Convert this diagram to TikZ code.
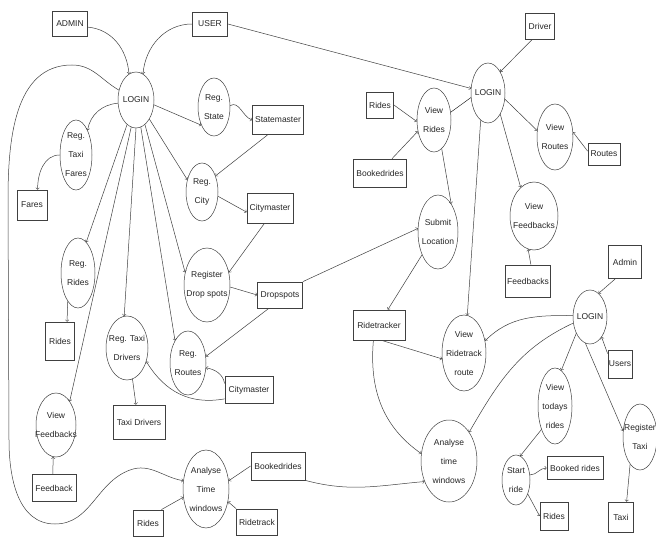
\documentclass[tikz,border=0pt]{standalone}
\usepackage{fontspec}
\setmainfont{Liberation Sans}
\usetikzlibrary{shapes.geometric}
\tikzset{
  proc/.style={draw=black!75, ellipse, inner sep=0pt, line width=0.5pt},
  ptext/.style={align=center, inner sep=0pt, text=black!85, font=\fontsize{8.5}{19}\selectfont},
  store/.style={draw=black!75, rectangle, inner sep=0pt, line width=0.8pt, text=black!85, font=\fontsize{8.5}{10}\selectfont},
  flow/.style={->, black!75, line width=0.5pt}
}
\begin{document}
\begin{tikzpicture}[x=1pt,y=1pt]
\useasboundingbox[fill=white] (0,0) rectangle (656,-537);

\node[store, minimum width=35, minimum height=25] (admin) at (70,-24) {ADMIN};
\node[store, minimum width=35, minimum height=24] (user) at (210,-24) {USER};
\node[proc, minimum width=36, minimum height=56, label={[ptext]center:LOGIN}] (loginA) at (136,-100) {};
\node[proc, minimum width=32, minimum height=58, label={[ptext]center:Reg.\\State}] (regstate) at (214,-107) {};
\node[store, minimum width=51, minimum height=29] (statemaster) at (278,-120) {Statemaster};
\node[proc, minimum width=32, minimum height=70, label={[ptext]center:Reg.\\Taxi\\Fares}] (regfares) at (76,-155) {};
\node[store, minimum width=30, minimum height=30] (fares) at (32,-205) {Fares};
\node[proc, minimum width=32, minimum height=58, label={[ptext]center:Reg.\\City}] (regcity) at (202,-192) {};
\node[store, minimum width=46, minimum height=30] (citymasterA) at (270,-208) {Citymaster};
\node[proc, minimum width=34, minimum height=70, label={[ptext]center:Reg.\\Rides}] (regrides) at (78,-273) {};
\node[store, minimum width=29, minimum height=38] (ridesA) at (60,-341) {Rides};
\node[proc, minimum width=46, minimum height=74, label={[ptext]center:Register\\Drop spots}] (dropreg) at (207,-285) {};
\node[store, minimum width=45, minimum height=26] (dropspots) at (280,-295) {Dropspots};
\node[proc, minimum width=42, minimum height=64, label={[ptext]center:Reg. Taxi\\Drivers}] (regdrivers) at (127,-348) {};
\node[store, minimum width=52, minimum height=34] (taxidrivers) at (139,-422) {Taxi Drivers};
\node[proc, minimum width=36, minimum height=64, label={[ptext]center:Reg.\\Routes}] (regroutes) at (188,-363) {};
\node[store, minimum width=48, minimum height=27] (citymasterB) at (249,-390) {Citymaster};
\node[proc, minimum width=40, minimum height=64, label={[ptext]center:View\\Feedbacks}] (viewfbA) at (56,-425) {};
\node[store, minimum width=44, minimum height=27] (feedback) at (54,-488) {Feedback};
\node[proc, minimum width=46, minimum height=78, label={[ptext]center:Analyse\\Time\\windows}] (analyseA) at (206,-489) {};
\node[store, minimum width=54, minimum height=28] (bookedA) at (278,-466) {Bookedrides};
\node[store, minimum width=30, minimum height=26] (ridesB) at (148,-523) {Rides};
\node[store, minimum width=41, minimum height=26] (ridetrack) at (257,-522) {Ridetrack};

\node[store, minimum width=29, minimum height=26] (driver) at (540,-26) {Driver};
\node[proc, minimum width=34, minimum height=60, label={[ptext]center:LOGIN}] (loginB) at (488,-93) {};
\node[proc, minimum width=34, minimum height=64, label={[ptext]center:View\\Rides}] (viewrides) at (434,-120) {};
\node[store, minimum width=27, minimum height=26] (ridesC) at (380,-105) {Rides};
\node[store, minimum width=53, minimum height=28] (bookedB) at (380,-173) {Bookedrides};
\node[proc, minimum width=36, minimum height=66, label={[ptext]center:View\\Routes}] (viewroutes) at (555,-137) {};
\node[store, minimum width=32, minimum height=22] (routes) at (604,-154) {Routes};
\node[proc, minimum width=40, minimum height=74, label={[ptext]center:Submit\\Location}] (submitloc) at (438,-232) {};
\node[proc, minimum width=48, minimum height=68, label={[ptext]center:View\\Feedbacks}] (viewfbB) at (534,-216) {};
\node[store, minimum width=45, minimum height=32] (feedbacks) at (528,-281) {Feedbacks};
\node[store, minimum width=33, minimum height=33] (adminB) at (625,-262) {Admin};
\node[proc, minimum width=34, minimum height=54, label={[ptext]center:LOGIN}] (loginC) at (590,-317) {};
\node[store, minimum width=52, minimum height=30] (ridetracker) at (379,-325) {Ridetracker};
\node[proc, minimum width=44, minimum height=76, label={[ptext]center:View\\Ridetrack\\route}] (viewtrack) at (464,-353) {};
\node[store, minimum width=24, minimum height=28] (users) at (620,-364) {Users};
\node[proc, minimum width=34, minimum height=76, label={[ptext]center:View\\todays\\rides}] (todays) at (555,-406) {};
\node[proc, minimum width=34, minimum height=66, label={[ptext]center:Register\\Taxi}] (regtaxi) at (640,-437) {};
\node[proc, minimum width=56, minimum height=82, label={[ptext]center:Analyse\\time\\windows}] (analyseB) at (449,-461) {};
\node[proc, minimum width=28, minimum height=50, label={[ptext]center:Start\\ride}] (startride) at (516,-480) {};
\node[store, minimum width=56, minimum height=23] (bookedC) at (575,-468) {Booked rides};
\node[store, minimum width=28, minimum height=28] (ridesD) at (554,-516) {Rides};
\node[store, minimum width=25, minimum height=30] (taxi) at (621,-517) {Taxi};

\draw[flow] (admin.-10) to[out=-5,in=95] (loginA.105);
\draw[flow] (user.west) to[out=180,in=85] (loginA.75);
\draw[flow] (user.east) -- (loginB.165);
\draw[flow] (loginA.-15) -- (regstate.235);
\draw[flow] (regstate.5) to[out=30,in=160] (statemaster.west);
\draw[flow] (statemaster.235) -- (regcity.50);
\draw[flow] (loginA.-55) -- (regcity.140);
\draw[flow] (regcity.-15) -- (citymasterA.190);
\draw[flow] (citymasterA.250) -- (dropreg.30);
\draw[flow] (loginA.-70) -- (dropreg.150);
\draw[flow] (dropreg.-5) -- (dropspots.west);
\draw[flow] (dropspots.230) -- (regroutes.20);
\draw[flow] (dropspots.north east) -- (submitloc.170);
\draw[flow] (loginA.-80) -- (regroutes.120);
\draw[flow] (citymasterB.165) to[out=100,in=-10] (regroutes.-15);
\draw[flow] (citymasterB.200) .. controls (190,-405) and (165,-392) .. (regdrivers.-35);
\draw[flow] (loginA.-90) -- (regdrivers.95);
\draw[flow] (regdrivers.-80) -- (taxidrivers.100);
\draw[flow] (loginA.-110) -- (regrides.75);
\draw[flow] (loginA.-100) -- (viewfbA.60);
\draw[flow] (loginA.190) to[out=185,in=80] (regfares.65);
\draw[flow] (regfares.west) to[out=180,in=90] (fares.70);
\draw[flow] (regrides.-110) -- (ridesA.70);
\draw[flow] (feedback.95) -- (viewfbA.-95);
\draw[flow] (loginA.150) to[out=150,in=0] (72,-65) to[out=180,in=90] (8,-200) -- (9,-440) to[out=-90,in=180] (55,-524) to[out=0,in=200] (130,-470) to[out=20,in=170] (analyseA.160);
\draw[flow] (bookedA.west) -- (analyseA.20);
\draw[flow] (ridesB.45) -- (analyseA.200);
\draw[flow] (ridetrack.north west) -- (analyseA.-30);
\draw[flow] (bookedA.south east) to[out=-15,in=185] (analyseB.220);

\draw[flow] (driver.-120) -- (loginB.60);
\draw (loginB.195) -- (viewrides.25);
\draw[flow] (ridesC.east) -- (viewrides.185);
\draw[flow] (bookedB.50) -- (viewrides.215);
\draw[flow] (viewrides.-75) -- (submitloc.65);
\draw[flow] (loginB.-20) -- (viewroutes.160);
\draw[flow] (routes.170) -- (viewroutes.15);
\draw[flow] (loginB.-60) -- (viewfbB.115);
\draw[flow] (feedbacks.80) -- (viewfbB.-100);
\draw[flow] (loginB.-105) -- (viewtrack.85);
\draw[flow] (submitloc.-125) -- (ridetracker.60);
\draw[flow] (ridetracker.-80) -- (viewtrack.195);
\draw[flow] (ridetracker.-110) to[out=-95,in=145] (analyseB.165);
\draw[flow] (loginC.175) to[out=180,in=45] (viewtrack.30);
\draw[flow] (loginC.200) to[out=205,in=60] (analyseB.55);
\draw[flow] (adminB.-120) -- (loginC.70);
\draw[flow] (loginC.-130) -- (todays.80);
\draw[flow] (users.140) -- (loginC.-60);
\draw[flow] (loginC.-100) -- (regtaxi.160);
\draw[flow] (todays.-120) -- (startride.80);
\draw[flow] (startride.20) to[out=0,in=180] (bookedC.west);
\draw[flow] (startride.-50) -- (ridesD.west);
\draw[flow] (regtaxi.-110) -- (taxi.70);
\end{tikzpicture}
\end{document}
